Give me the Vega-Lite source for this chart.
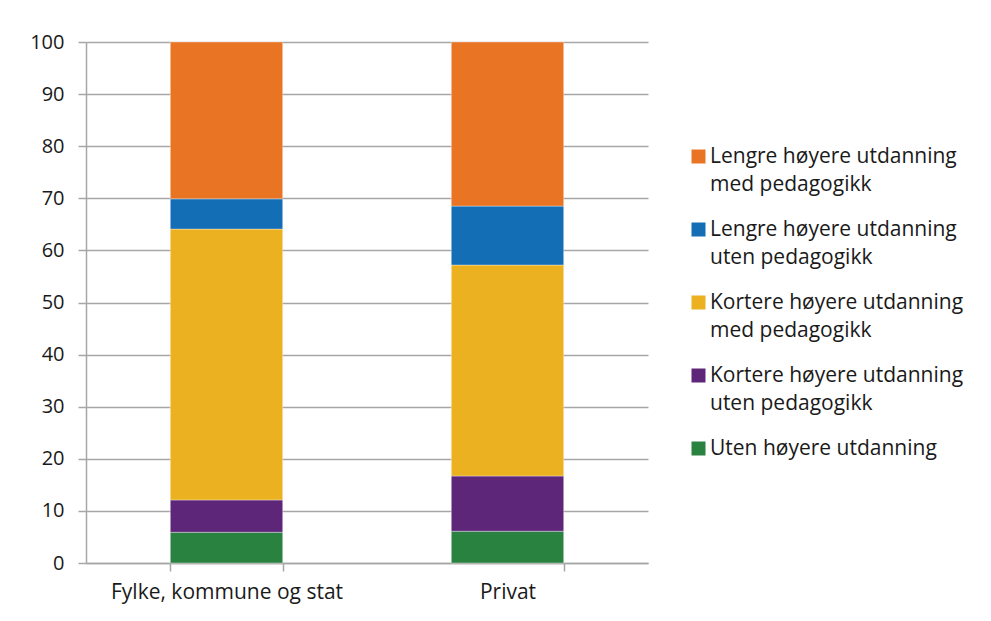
{
  "$schema": "https://vega.github.io/schema/vega-lite/v6.json",
  "autosize": "none",
  "width": 562,
  "height": 521,
  "padding": {"left": 86, "top": 42, "right": 343, "bottom": 58},
  "background": "#ffffff",
  "config": {
    "font": "Open Sans",
    "view": {"stroke": null},
    "axis": {"labelFont": "Open Sans", "labelFontSize": 20, "labelColor": "#1a1a1a", "labelLimit": 400},
    "style": {"guide-label": {"lineHeight": 28}}
  },
  "data": {
    "values": [
      {"sektor": "Fylke, kommune og stat", "kategori": "Uten høyere utdanning", "rekkefolge": 1, "prosent": 5.9},
      {"sektor": "Fylke, kommune og stat", "kategori": "Kortere høyere utdanning|uten pedagogikk", "rekkefolge": 2, "prosent": 6.2},
      {"sektor": "Fylke, kommune og stat", "kategori": "Kortere høyere utdanning|med pedagogikk", "rekkefolge": 3, "prosent": 52.0},
      {"sektor": "Fylke, kommune og stat", "kategori": "Lengre høyere utdanning|uten pedagogikk", "rekkefolge": 4, "prosent": 5.8},
      {"sektor": "Fylke, kommune og stat", "kategori": "Lengre høyere utdanning|med pedagogikk", "rekkefolge": 5, "prosent": 30.1},
      {"sektor": "Privat", "kategori": "Uten høyere utdanning", "rekkefolge": 1, "prosent": 6.1},
      {"sektor": "Privat", "kategori": "Kortere høyere utdanning|uten pedagogikk", "rekkefolge": 2, "prosent": 10.6},
      {"sektor": "Privat", "kategori": "Kortere høyere utdanning|med pedagogikk", "rekkefolge": 3, "prosent": 40.5},
      {"sektor": "Privat", "kategori": "Lengre høyere utdanning|uten pedagogikk", "rekkefolge": 4, "prosent": 11.3},
      {"sektor": "Privat", "kategori": "Lengre høyere utdanning|med pedagogikk", "rekkefolge": 5, "prosent": 31.5}
    ]
  },
  "mark": {"type": "bar", "stroke": "#ffffff", "strokeWidth": 0.6, "strokeOpacity": 0.6},
  "encoding": {
    "x": {
      "field": "sektor",
      "type": "nominal",
      "sort": null,
      "title": null,
      "scale": {"paddingInner": 0.6, "paddingOuter": 0.3},
      "axis": {
        "labelAngle": 0,
        "labelFontSize": 21,
        "tickBand": "extent",
        "domainColor": "#a6a6a6",
        "domainWidth": 1.5,
        "tickColor": "#a6a6a6",
        "tickWidth": 1.5,
        "tickSize": 8,
        "labelPadding": 10
      }
    },
    "y": {
      "field": "prosent",
      "type": "quantitative",
      "stack": "zero",
      "title": null,
      "scale": {"domain": [0, 100], "nice": false},
      "axis": {
        "values": [0, 10, 20, 30, 40, 50, 60, 70, 80, 90, 100],
        "grid": true,
        "gridColor": "#a6a6a6",
        "gridWidth": 1.5,
        "domainColor": "#a6a6a6",
        "domainWidth": 1.5,
        "tickColor": "#a6a6a6",
        "tickWidth": 1.5,
        "tickSize": 8,
        "labelPadding": 14
      }
    },
    "order": {"field": "rekkefolge", "type": "quantitative"},
    "color": {
      "field": "kategori",
      "type": "nominal",
      "scale": {
        "domain": [
          "Lengre høyere utdanning|med pedagogikk",
          "Lengre høyere utdanning|uten pedagogikk",
          "Kortere høyere utdanning|med pedagogikk",
          "Kortere høyere utdanning|uten pedagogikk",
          "Uten høyere utdanning"
        ],
        "range": ["#e97424", "#136eb6", "#ebb120", "#5e2678", "#2a8241"]
      },
      "legend": {
        "title": null,
        "orient": "none",
        "legendX": 602,
        "legendY": 104,
        "symbolType": "square",
        "symbolSize": 196,
        "symbolStrokeWidth": 0,
        "labelFont": "Open Sans",
        "labelFontSize": 21,
        "labelColor": "#1a1a1a",
        "labelLimit": 400,
        "labelOffset": 1,
        "labelExpr": "split(datum.label, '|')",
        "rowPadding": 23
      }
    }
  }
}
